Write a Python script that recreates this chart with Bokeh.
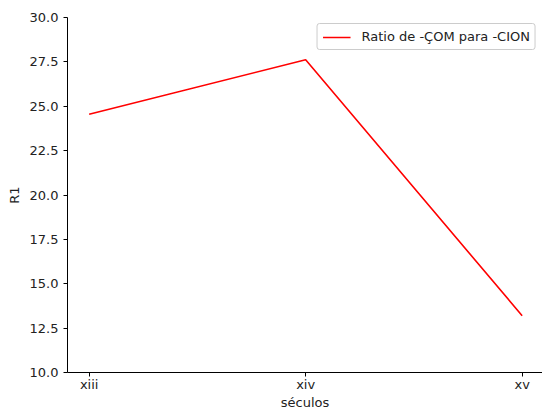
from bokeh.plotting import figure
from bokeh.models import Range1d, FixedTicker, NumeralTickFormatter, Legend, LegendItem
from bokeh.embed import file_html
from bokeh.resources import INLINE

categories = ["xiii", "xiv", "xv"]
ratio_values = [24.55, 27.62, 13.2]
series_name = "Ratio de -ÇOM para -CION"
y_ticks = [10.0, 12.5, 15.0, 17.5, 20.0, 22.5, 25.0, 27.5, 30.0]

FONT = "DejaVu Sans"
FS = "13px"

xs = list(range(len(categories)))

p = figure(width=542, height=412, output_backend="svg", toolbar_location=None,
           x_range=Range1d(-0.1, 2.094), y_range=Range1d(10, 30),
           min_border_left=67, min_border_right=0, min_border_top=17, min_border_bottom=40)
p.outline_line_color = None
p.xgrid.visible = False
p.ygrid.visible = False
p.background_fill_color = "white"
p.border_fill_color = "white"

r = p.line(xs, ratio_values, line_color="#ff0000", line_width=1.6)

for ax in (p.xaxis[0], p.yaxis[0]):
    ax.axis_line_color = "black"
    ax.axis_line_width = 1
    ax.major_tick_line_color = "black"
    ax.major_tick_in = 0
    ax.major_tick_out = 4
    ax.minor_tick_line_color = None
    ax.major_label_text_font = FONT
    ax.major_label_text_font_size = FS
    ax.major_label_text_color = "#222222"
    ax.axis_label_text_font = FONT
    ax.axis_label_text_font_size = FS
    ax.axis_label_text_font_style = "normal"
    ax.axis_label_text_color = "#222222"

p.xaxis.ticker = FixedTicker(ticks=xs)
p.xaxis.major_label_overrides = {i: c for i, c in enumerate(categories)}
p.xaxis.axis_label = "séculos"
p.xaxis.major_label_standoff = 0
p.xaxis.axis_label_standoff = 0

p.yaxis.ticker = FixedTicker(ticks=y_ticks)
p.yaxis.formatter = NumeralTickFormatter(format="0.0")
p.yaxis.axis_label = "R1"
p.yaxis.major_label_standoff = 5
p.yaxis.axis_label_standoff = 5

legend = Legend(items=[LegendItem(label=series_name, renderers=[r])],
                location="top_right")
legend.label_text_font = FONT
legend.label_text_font_size = FS
legend.label_text_color = "#222222"
legend.glyph_width = 28
legend.glyph_height = 14
legend.label_height = 14
legend.label_standoff = 11
legend.padding = 5
legend.margin = 6
legend.spacing = 0
legend.border_line_color = "#cccccc"
legend.border_line_alpha = 1.0
legend.border_radius = 3
legend.background_fill_alpha = 0.8
p.add_layout(legend)

open("out.html", "w").write(file_html(p, INLINE))
